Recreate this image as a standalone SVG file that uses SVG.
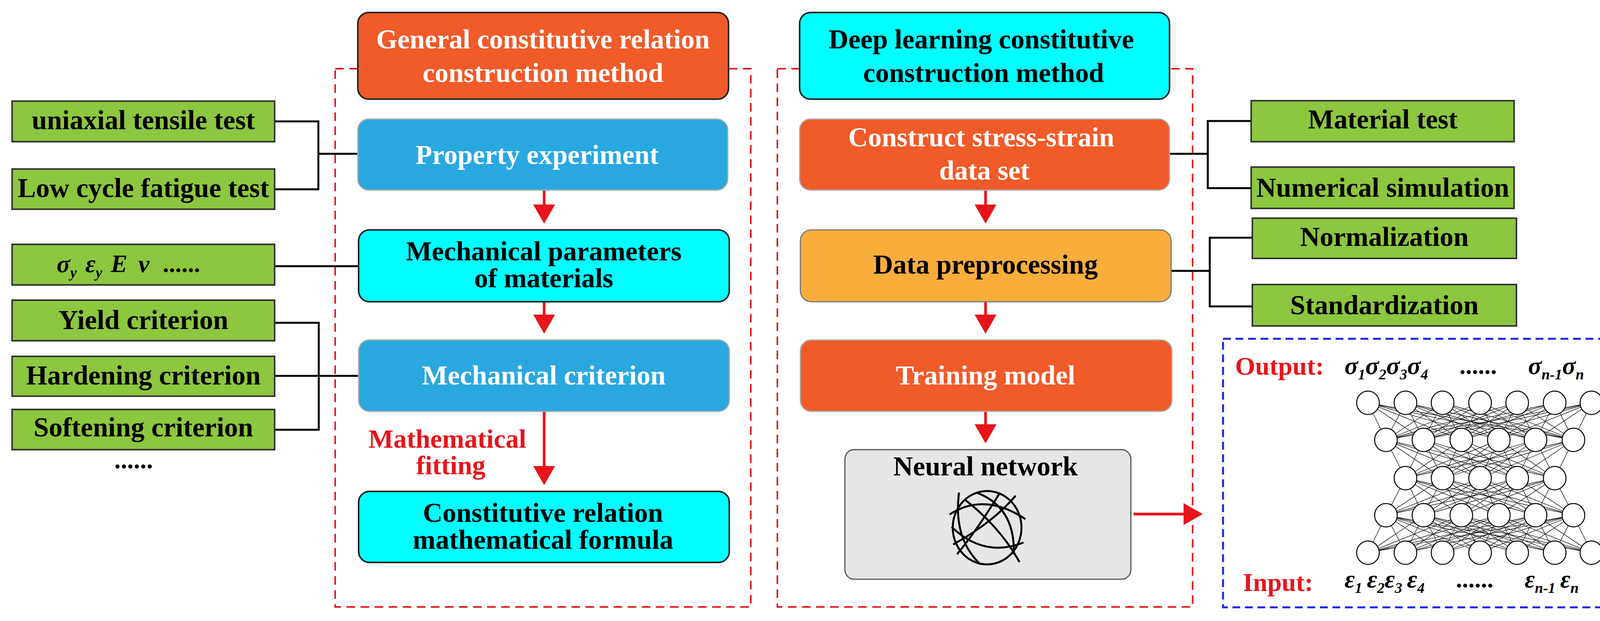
<svg xmlns="http://www.w3.org/2000/svg" width="4217" height="1591" viewBox="0 0 4217 1591">
<style>
text{font-family:"Liberation Serif","Times New Roman",serif;font-weight:bold}
.c{text-anchor:middle}
.s{text-anchor:start}
.t{font-size:70px}
.g{font-size:70px;fill:#000}
.box{stroke:#222;stroke-width:4}
.gr{fill:#8DC63F;stroke:#333;stroke-width:4}
.ln{stroke:#000;stroke-width:5;fill:none}
.red{stroke:#E8141B;stroke-width:7;fill:none}
.nn{fill:#fff;stroke:#000;stroke-width:2.5}
.w{stroke:#000;stroke-width:1.3}
.it{font-style:italic;font-size:64px}
.sub{font-size:38px}
</style>
<defs>
<marker id="ah" markerWidth="8" markerHeight="8" refX="6" refY="4" orient="auto" markerUnits="strokeWidth"><path d="M0,0 L7,4 L0,8 z" fill="#E8141B"/></marker>
</defs>
<rect x="858" y="176" width="1064" height="1379" fill="none" stroke="#E8141B" stroke-width="4" stroke-dasharray="22,14"/>
<rect x="1990" y="176" width="1063" height="1379" fill="none" stroke="#E8141B" stroke-width="4" stroke-dasharray="22,14"/>
<rect x="3131" y="868" width="1054" height="688" fill="none" stroke="#1E23E6" stroke-width="5" stroke-dasharray="20,12"/>

<g id="connectors">
<polyline class="ln" points="703,311 815,311 815,485 703,485"/>
<line class="ln" x1="815" y1="394" x2="916" y2="394"/>
<line class="ln" x1="703" y1="682" x2="918" y2="682"/>
<polyline class="ln" points="703,827 816,827 816,1101 703,1101"/>
<line class="ln" x1="703" y1="963" x2="918" y2="963"/>
<polyline class="ln" points="3203,310 3092,310 3092,482 3203,482"/>
<line class="ln" x1="2994" y1="394" x2="3092" y2="394"/>
<polyline class="ln" points="3206,609 3097,609 3097,785 3206,785"/>
<line class="ln" x1="2998" y1="694" x2="3097" y2="694"/>
<line class="red" x1="1393" y1="487" x2="1393" y2="566" marker-end="url(#ah)"/>
<line class="red" x1="1393" y1="773" x2="1393" y2="848" marker-end="url(#ah)"/>
<line class="red" x1="1393" y1="1054" x2="1393" y2="1236" marker-end="url(#ah)"/>
<line class="red" x1="2523" y1="487" x2="2523" y2="566" marker-end="url(#ah)"/>
<line class="red" x1="2523" y1="773" x2="2523" y2="848" marker-end="url(#ah)"/>
<line class="red" x1="2523" y1="1054" x2="2523" y2="1129" marker-end="url(#ah)"/>
<line class="red" x1="2902" y1="1317" x2="3072" y2="1317" marker-end="url(#ah)"/>
</g>

<g id="n-title-left"><rect class="box" x="916" y="32" width="949" height="222" rx="28" fill="#F15A29"/>
<text class="t c" x="1390" y="124" fill="#fff">General constitutive relation</text><text class="t c" x="1390" y="210" fill="#fff">construction method</text></g>
<g id="n-prop"><rect x="916" y="305" width="947" height="182" rx="28" fill="#29A8E0" stroke="#aaa" stroke-width="3"/><text class="t c" x="1375" y="420" fill="#fff">Property experiment</text></g>
<g id="n-mechpar"><rect class="box" x="918" y="589" width="949" height="184" rx="28" fill="#00FFFF"/><text class="t c" x="1392" y="667">Mechanical parameters</text><text class="t c" x="1392" y="736">of materials</text></g>
<g id="n-mechcrit"><rect x="918" y="871" width="949" height="183" rx="28" fill="#29A8E0" stroke="#aaa" stroke-width="3"/><text class="t c" x="1392" y="985" fill="#fff">Mechanical criterion</text></g>
<g id="n-formula"><rect class="box" x="918" y="1259" width="949" height="182" rx="28" fill="#00FFFF"/><text class="t c" x="1390" y="1337">Constitutive relation</text><text class="t c" x="1390" y="1406">mathematical formula</text></g>
<text class="c" x="1145" y="1147" font-size="68" fill="#E8141B">Mathematical</text>
<text class="c" x="1154" y="1215" font-size="68" fill="#E8141B">fitting</text>

<g id="g-uni"><rect class="gr" x="31" y="259" width="672" height="104"/><text class="g c" x="367" y="331">uniaxial tensile test</text></g>
<g id="g-low"><rect class="gr" x="31" y="433" width="672" height="103"/><text class="g c" x="367" y="505">Low cycle fatigue test</text></g>
<g id="g-sig"><rect class="gr" x="31" y="626" width="672" height="104"/>
<text x="145" y="697" class="it s"><tspan>σ</tspan><tspan class="sub" dy="14">y</tspan><tspan dy="-14" dx="22">ε</tspan><tspan class="sub" dy="14">y</tspan><tspan dy="-14" dx="22">E</tspan><tspan dx="28">ν</tspan><tspan dx="34" font-style="normal">......</tspan></text></g>
<g id="g-yield"><rect class="gr" x="31" y="769" width="672" height="104"/><text class="g c" x="367" y="843">Yield criterion</text></g>
<g id="g-hard"><rect class="gr" x="31" y="913" width="672" height="102"/><text class="g c" x="367" y="985">Hardening criterion</text></g>
<g id="g-soft"><rect class="gr" x="31" y="1049" width="672" height="103"/><text class="g c" x="367" y="1118">Softening criterion</text></g>
<text class="c" x="342" y="1200" font-size="66">......</text>

<g id="n-title-right"><rect class="box" x="2047" y="32" width="947" height="222" rx="28" fill="#00FFFF"/>
<text class="t c" x="2512" y="124">Deep learning constitutive</text><text class="t c" x="2518" y="210">construction method</text></g>
<g id="n-construct"><rect x="2047" y="305" width="947" height="182" rx="28" fill="#F15A29" stroke="#aaa" stroke-width="3"/><text class="t c" x="2512" y="375" fill="#fff">Construct stress-strain</text><text class="t c" x="2520" y="460" fill="#fff">data set</text></g>
<g id="n-prep"><rect x="2049" y="589" width="949" height="184" rx="28" fill="#F9AE3C" stroke="#777" stroke-width="3"/><text class="t c" x="2523" y="701">Data preprocessing</text></g>
<g id="n-train"><rect x="2049" y="871" width="951" height="183" rx="28" fill="#F15A29" stroke="#aaa" stroke-width="3"/><text class="t c" x="2523" y="985" fill="#fff">Training model</text></g>
<g id="n-nn"><rect x="2163" y="1152" width="732" height="332" rx="24" fill="#E6E6E6" stroke="#555" stroke-width="3"/><text class="t c" x="2523" y="1218">Neural network</text>
<g fill="none" stroke="#000" stroke-width="5">
<ellipse cx="2527" cy="1352" rx="88" ry="94"/>
<path d="M2455,1262 Q2440,1380 2510,1446"/>
<path d="M2431,1318 Q2520,1260 2625,1330"/>
<path d="M2440,1395 Q2540,1340 2600,1270"/>
<path d="M2470,1280 Q2560,1350 2610,1440"/>
<path d="M2560,1262 Q2500,1360 2450,1420"/>
<path d="M2436,1350 Q2520,1430 2620,1390"/>
<path d="M2500,1262 Q2600,1300 2595,1420"/>
</g></g>

<g id="g-mat"><rect class="gr" x="3203" y="258" width="673" height="105"/><text class="g c" x="3540" y="329">Material test</text></g>
<g id="g-num"><rect class="gr" x="3203" y="428" width="673" height="106"/><text class="g c" x="3540" y="504">Numerical simulation</text></g>
<g id="g-norm"><rect class="gr" x="3206" y="559" width="676" height="103"/><text class="g c" x="3544" y="630">Normalization</text></g>
<g id="g-std"><rect class="gr" x="3206" y="729" width="676" height="106"/><text class="g c" x="3544" y="805">Standardization</text></g>

<g id="nn-diagram">
<text class="s" x="3162" y="960" font-size="66" fill="#E8141B">Output:</text>
<text x="3442" y="958" class="it s"><tspan>σ</tspan><tspan class="sub" dy="14">1</tspan><tspan dy="-14">σ</tspan><tspan class="sub" dy="14">2</tspan><tspan dy="-14">σ</tspan><tspan class="sub" dy="14">3</tspan><tspan dy="-14">σ</tspan><tspan class="sub" dy="14">4</tspan><tspan dy="-14" dx="80" font-style="normal">......</tspan><tspan dx="80">σ</tspan><tspan class="sub" dy="14">n-1</tspan><tspan dy="-14">σ</tspan><tspan class="sub" dy="14">n</tspan></text>
<text class="s" x="3182" y="1514" font-size="66" fill="#E8141B">Input:</text>
<text x="3442" y="1505" class="it s"><tspan>ε</tspan><tspan class="sub" dy="14">1</tspan><tspan dy="-14" dx="12">ε</tspan><tspan class="sub" dy="14">2</tspan><tspan dy="-14">ε</tspan><tspan class="sub" dy="14">3</tspan><tspan dy="-14" dx="12">ε</tspan><tspan class="sub" dy="14">4</tspan><tspan dy="-14" dx="80" font-style="normal">......</tspan><tspan dx="80">ε</tspan><tspan class="sub" dy="14">n-1</tspan><tspan dy="-14" dx="12">ε</tspan><tspan class="sub" dy="14">n</tspan></text>
<g class="w">
<path d="M3502,1032L3548,1127M3502,1032L3644,1127M3502,1032L3741,1127M3502,1032L3837,1127M3502,1032L3931,1127M3502,1032L4028,1127M3598,1032L3548,1127M3598,1032L3644,1127M3598,1032L3741,1127M3598,1032L3837,1127M3598,1032L3931,1127M3598,1032L4028,1127M3693,1032L3548,1127M3693,1032L3644,1127M3693,1032L3741,1127M3693,1032L3837,1127M3693,1032L3931,1127M3693,1032L4028,1127M3789,1032L3548,1127M3789,1032L3644,1127M3789,1032L3741,1127M3789,1032L3837,1127M3789,1032L3931,1127M3789,1032L4028,1127M3884,1032L3548,1127M3884,1032L3644,1127M3884,1032L3741,1127M3884,1032L3837,1127M3884,1032L3931,1127M3884,1032L4028,1127M3980,1032L3548,1127M3980,1032L3644,1127M3980,1032L3741,1127M3980,1032L3837,1127M3980,1032L3931,1127M3980,1032L4028,1127M4074,1032L3548,1127M4074,1032L3644,1127M4074,1032L3741,1127M4074,1032L3837,1127M4074,1032L3931,1127M4074,1032L4028,1127"/>
<path d="M3548,1127L3598,1225M3548,1127L3693,1225M3548,1127L3789,1225M3548,1127L3884,1225M3548,1127L3980,1225M3644,1127L3598,1225M3644,1127L3693,1225M3644,1127L3789,1225M3644,1127L3884,1225M3644,1127L3980,1225M3741,1127L3598,1225M3741,1127L3693,1225M3741,1127L3789,1225M3741,1127L3884,1225M3741,1127L3980,1225M3837,1127L3598,1225M3837,1127L3693,1225M3837,1127L3789,1225M3837,1127L3884,1225M3837,1127L3980,1225M3931,1127L3598,1225M3931,1127L3693,1225M3931,1127L3789,1225M3931,1127L3884,1225M3931,1127L3980,1225M4028,1127L3598,1225M4028,1127L3693,1225M4028,1127L3789,1225M4028,1127L3884,1225M4028,1127L3980,1225"/>
<path d="M3548,1320L3598,1225M3548,1320L3693,1225M3548,1320L3789,1225M3548,1320L3884,1225M3548,1320L3980,1225M3644,1320L3598,1225M3644,1320L3693,1225M3644,1320L3789,1225M3644,1320L3884,1225M3644,1320L3980,1225M3741,1320L3598,1225M3741,1320L3693,1225M3741,1320L3789,1225M3741,1320L3884,1225M3741,1320L3980,1225M3837,1320L3598,1225M3837,1320L3693,1225M3837,1320L3789,1225M3837,1320L3884,1225M3837,1320L3980,1225M3931,1320L3598,1225M3931,1320L3693,1225M3931,1320L3789,1225M3931,1320L3884,1225M3931,1320L3980,1225M4028,1320L3598,1225M4028,1320L3693,1225M4028,1320L3789,1225M4028,1320L3884,1225M4028,1320L3980,1225"/>
<path d="M3502,1416L3548,1320M3502,1416L3644,1320M3502,1416L3741,1320M3502,1416L3837,1320M3502,1416L3931,1320M3502,1416L4028,1320M3598,1416L3548,1320M3598,1416L3644,1320M3598,1416L3741,1320M3598,1416L3837,1320M3598,1416L3931,1320M3598,1416L4028,1320M3693,1416L3548,1320M3693,1416L3644,1320M3693,1416L3741,1320M3693,1416L3837,1320M3693,1416L3931,1320M3693,1416L4028,1320M3789,1416L3548,1320M3789,1416L3644,1320M3789,1416L3741,1320M3789,1416L3837,1320M3789,1416L3931,1320M3789,1416L4028,1320M3884,1416L3548,1320M3884,1416L3644,1320M3884,1416L3741,1320M3884,1416L3837,1320M3884,1416L3931,1320M3884,1416L4028,1320M3980,1416L3548,1320M3980,1416L3644,1320M3980,1416L3741,1320M3980,1416L3837,1320M3980,1416L3931,1320M3980,1416L4028,1320M4074,1416L3548,1320M4074,1416L3644,1320M4074,1416L3741,1320M4074,1416L3837,1320M4074,1416L3931,1320M4074,1416L4028,1320"/>
</g>
<g class="nn">
<ellipse cx="3502" cy="1032" rx="29" ry="30"/><ellipse cx="3598" cy="1032" rx="29" ry="30"/><ellipse cx="3693" cy="1032" rx="29" ry="30"/><ellipse cx="3789" cy="1032" rx="29" ry="30"/><ellipse cx="3884" cy="1032" rx="29" ry="30"/><ellipse cx="3980" cy="1032" rx="29" ry="30"/><ellipse cx="4074" cy="1032" rx="29" ry="30"/>
<ellipse cx="3548" cy="1127" rx="29" ry="30"/><ellipse cx="3644" cy="1127" rx="29" ry="30"/><ellipse cx="3741" cy="1127" rx="29" ry="30"/><ellipse cx="3837" cy="1127" rx="29" ry="30"/><ellipse cx="3931" cy="1127" rx="29" ry="30"/><ellipse cx="4028" cy="1127" rx="29" ry="30"/>
<ellipse cx="3598" cy="1225" rx="29" ry="30"/><ellipse cx="3693" cy="1225" rx="29" ry="30"/><ellipse cx="3789" cy="1225" rx="29" ry="30"/><ellipse cx="3884" cy="1225" rx="29" ry="30"/><ellipse cx="3980" cy="1225" rx="29" ry="30"/>
<ellipse cx="3548" cy="1320" rx="29" ry="30"/><ellipse cx="3644" cy="1320" rx="29" ry="30"/><ellipse cx="3741" cy="1320" rx="29" ry="30"/><ellipse cx="3837" cy="1320" rx="29" ry="30"/><ellipse cx="3931" cy="1320" rx="29" ry="30"/><ellipse cx="4028" cy="1320" rx="29" ry="30"/>
<ellipse cx="3502" cy="1416" rx="29" ry="30"/><ellipse cx="3598" cy="1416" rx="29" ry="30"/><ellipse cx="3693" cy="1416" rx="29" ry="30"/><ellipse cx="3789" cy="1416" rx="29" ry="30"/><ellipse cx="3884" cy="1416" rx="29" ry="30"/><ellipse cx="3980" cy="1416" rx="29" ry="30"/><ellipse cx="4074" cy="1416" rx="29" ry="30"/>
</g>
</g>
</svg>
